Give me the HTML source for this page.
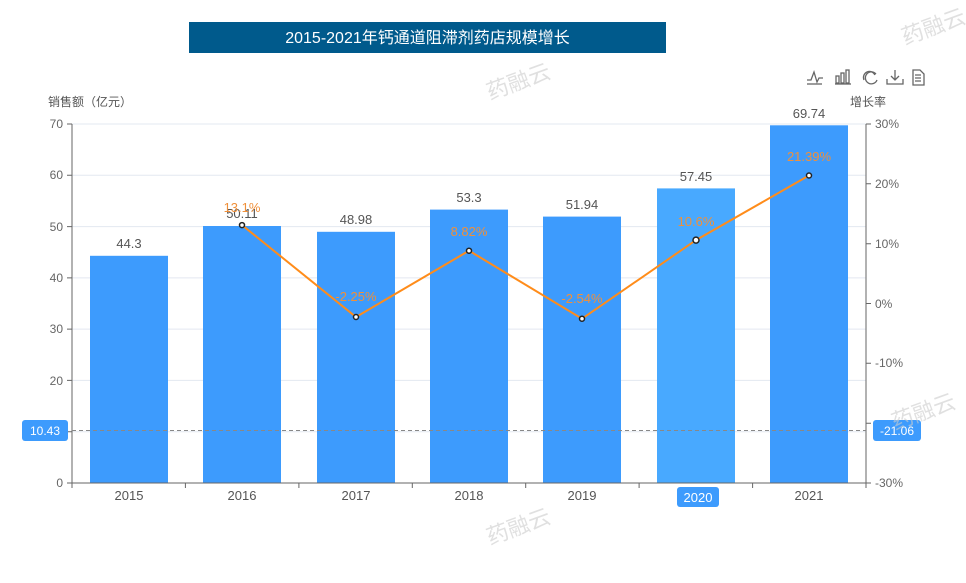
<!DOCTYPE html>
<html><head><meta charset="utf-8"><style>
body{margin:0;background:#fff;width:966px;height:578px;overflow:hidden}
text{font-family:"Liberation Sans","Noto Sans CJK SC",sans-serif}
</style></head><body>
<svg width="966" height="578" xmlns="http://www.w3.org/2000/svg">
<rect x="189" y="22" width="477" height="31" fill="#005a8c"/>
<text x="427.5" y="43" font-size="16" fill="#fff" text-anchor="middle">2015-2021年钙通道阻滞剂药店规模增长</text>
<!-- toolbar -->
<g stroke="#666" fill="none" stroke-width="1.3">
<path d="M807 80 h4 l3 -8 l3 10 l2 -4 h4"/><line x1="807" y1="84" x2="822" y2="84"/>
<rect x="836" y="76" width="3" height="7"/><rect x="841" y="73" width="3" height="10"/><rect x="846" y="70" width="3" height="13"/><line x1="835" y1="84" x2="851" y2="84"/>
<path d="M876 74 a6 6 0 1 0 1 6"/><path d="M864 80 a6 6 0 0 1 11 -5"/>
<path d="M895 70 v10 M891 76 l4 4 l4 -4 M887 79 v5 h16 v-5"/>
<path d="M913 70 h7 l4 4 v11 h-11 z M915 75 h6 M915 78 h6 M915 81 h6"/>
</g>
<text x="48" y="106" font-size="12" fill="#555">销售额（亿元）</text>
<text x="868" y="106" font-size="12" fill="#555" text-anchor="middle">增长率</text>
<!-- grid -->
<g stroke="#e3e8f0" stroke-width="1">
<line x1="72" y1="124" x2="866" y2="124"/><line x1="72" y1="175.3" x2="866" y2="175.3"/><line x1="72" y1="226.6" x2="866" y2="226.6"/><line x1="72" y1="277.9" x2="866" y2="277.9"/><line x1="72" y1="329.1" x2="866" y2="329.1"/><line x1="72" y1="380.4" x2="866" y2="380.4"/><line x1="72" y1="431.7" x2="866" y2="431.7"/>
</g>
<!-- bars -->
<g fill="#3d9bfd">
<rect x="90" y="255.8" width="78" height="227.2"/>
<rect x="203" y="226" width="78" height="257"/>
<rect x="317" y="231.8" width="78" height="251.2"/>
<rect x="430" y="209.6" width="78" height="273.4"/>
<rect x="543" y="216.6" width="78" height="266.4"/>
<rect x="657" y="188.4" width="78" height="294.6" fill="#48a9ff"/>
<rect x="770" y="125.3" width="78" height="357.7"/>
</g>
<g font-size="13" fill="#555" text-anchor="middle">
<text x="129" y="248">44.3</text><text x="242" y="218">50.11</text><text x="356" y="224">48.98</text><text x="469" y="202">53.3</text><text x="582" y="209">51.94</text><text x="696" y="181">57.45</text><text x="809" y="118">69.74</text>
</g>
<!-- axes -->
<g stroke="#666" stroke-width="1">
<line x1="72" y1="124" x2="72" y2="483"/><line x1="866" y1="124" x2="866" y2="483"/><line x1="67" y1="483" x2="866" y2="483"/>
<path d="M67 124h5M67 175.3h5M67 226.6h5M67 277.9h5M67 329.1h5M67 380.4h5M67 431.7h5"/>
<path d="M866 124h5M866 183.8h5M866 243.7h5M866 303.5h5M866 363.3h5M866 423.2h5M866 483h5"/>
<path d="M72 483v5M185.4 483v5M298.9 483v5M412.3 483v5M525.7 483v5M639.1 483v5M752.6 483v5M866 483v5"/>
</g>
<g font-size="12" fill="#666" text-anchor="end">
<text x="63" y="128">70</text><text x="63" y="179">60</text><text x="63" y="231">50</text><text x="63" y="282">40</text><text x="63" y="333">30</text><text x="63" y="385">20</text><text x="63" y="487">0</text>
</g>
<g font-size="12" fill="#666">
<text x="875" y="128">30%</text><text x="875" y="188">20%</text><text x="875" y="248">10%</text><text x="875" y="308">0%</text><text x="875" y="367">-10%</text><text x="875" y="487">-30%</text>
</g>
<g font-size="13" fill="#555" text-anchor="middle">
<text x="129" y="500">2015</text><text x="242" y="500">2016</text><text x="356" y="500">2017</text><text x="469" y="500">2018</text><text x="582" y="500">2019</text><text x="809" y="500">2021</text>
</g>
<rect x="677" y="487" width="42" height="20" rx="3" fill="#3d9bfd"/>
<text x="698" y="502" font-size="13" fill="#fff" text-anchor="middle">2020</text>
<!-- crosshair -->
<line x1="72" y1="430.5" x2="866" y2="430.5" stroke="#888" stroke-dasharray="4,3"/>
<rect x="22" y="420" width="46" height="21" rx="3" fill="#3d9bfd"/>
<text x="45" y="435" font-size="12" fill="#fff" text-anchor="middle">10.43</text>
<rect x="873" y="420" width="48" height="21" rx="3" fill="#3d9bfd"/>
<text x="897" y="435" font-size="12" fill="#fff" text-anchor="middle">-21.06</text>
<!-- line -->
<polyline points="242,225.1 356,317 469,250.7 582,318.7 696,240.1 809,175.5" fill="none" stroke="#ff8c1a" stroke-width="2"/>
<g fill="#fff" stroke="#222" stroke-width="1.5">
<circle cx="242" cy="225.1" r="2.5"/><circle cx="356" cy="317" r="2.5"/><circle cx="469" cy="250.7" r="2.5"/><circle cx="582" cy="318.7" r="2.5"/><circle cx="696" cy="240.1" r="3"/><circle cx="809" cy="175.5" r="2.5"/>
</g>
<g font-size="13" fill="#f0903a" text-anchor="middle">
<text x="242" y="212">13.1%</text><text x="356" y="301">-2.25%</text><text x="469" y="236">8.82%</text><text x="582" y="303">-2.54%</text><text x="696" y="226">10.6%</text><text x="809" y="161">21.39%</text>
</g>
<!-- watermarks -->
<g font-size="22" fill="#ccc" opacity="0.6">
<text x="490" y="100" transform="rotate(-20 490 100)">药融云</text>
<text x="905" y="45" transform="rotate(-20 905 45)">药融云</text>
<text x="490" y="545" transform="rotate(-20 490 545)">药融云</text>
<text x="895" y="430" transform="rotate(-20 895 430)">药融云</text>
</g>
</svg>
</body></html>
